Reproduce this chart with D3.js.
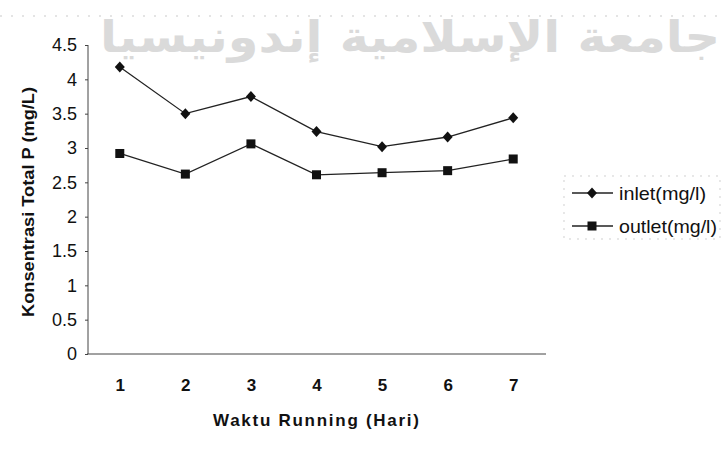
<!DOCTYPE html>
<html><head><meta charset="utf-8">
<script src="https://cdn.jsdelivr.net/npm/d3@7"></script>
<style>html,body{margin:0;padding:0;background:#fff;}svg{display:block;}</style>
</head><body>
<script>
const categories = ["1","2","3","4","5","6","7"];
const inletValues = [4.18, 3.50, 3.75, 3.24, 3.02, 3.16, 3.44];
const outletValues = [2.92, 2.62, 3.06, 2.61, 2.64, 2.67, 2.84];
const yTicks = [0,0.5,1,1.5,2,2.5,3,3.5,4,4.5];
const seriesNames = ["inlet(mg/l)","outlet(mg/l)"];

const W=721,H=455;
const svg=d3.select("body").append("svg").attr("width",W).attr("height",H);
const font="'Liberation Sans', Arial, sans-serif";

// faint watermark
svg.append("text").attr("x",410).attr("y",52).attr("text-anchor","middle")
  .attr("font-family","'DejaVu Sans', sans-serif").attr("font-weight","bold")
  .attr("font-size",44).attr("fill","#dadada")
  .attr("textLength",620).attr("lengthAdjust","spacingAndGlyphs")
  .text("جامعة الإسلامية إندونيسيا");
svg.append("line").attr("x1",0).attr("x2",721).attr("y1",16).attr("y2",16)
  .attr("stroke","#bbb").attr("stroke-width",0.8).attr("stroke-dasharray","2,9");

const x=d3.scalePoint().domain(categories).range([87,546]).padding(0.5);
const y=d3.scaleLinear().domain([0,4.5]).range([354,45]);

// y axis
const yAxis=d3.axisLeft(y).tickValues(yTicks).tickSize(3).tickPadding(8)
  .tickFormat(d=>String(d));
const gy=svg.append("g").attr("transform","translate(88,0)").call(yAxis);
gy.select(".domain").attr("stroke","#444").attr("stroke-width",1).attr("d","M0,45V354");
gy.selectAll(".tick line").attr("stroke","#444");
gy.selectAll(".tick text").attr("font-family",font).attr("font-size",18).attr("fill","#111");

// x axis
const xAxis=d3.axisBottom(x).tickSize(0).tickPadding(25);
const gx=svg.append("g").attr("transform","translate(0,354)").call(xAxis);
gx.select(".domain").attr("stroke","#444").attr("stroke-width",1).attr("d","M87,0H546");
gx.selectAll(".tick text").attr("font-family",font).attr("font-size",17).attr("font-weight","bold").attr("fill","#111");

// axis titles
svg.append("text").attr("transform","translate(34,202) rotate(-90)").attr("text-anchor","middle")
  .attr("font-family",font).attr("font-weight","bold").attr("font-size",16).attr("fill","#111")
  .attr("textLength",230).attr("lengthAdjust","spacingAndGlyphs")
  .text("Konsentrasi Total P (mg/L)");
svg.append("text").attr("x",316).attr("y",426).attr("text-anchor","middle")
  .attr("font-family",font).attr("font-weight","bold").attr("font-size",17).attr("fill","#111")
  .attr("textLength",206).attr("lengthAdjust","spacing")
  .text("Waktu Running (Hari)");

const line=d3.line().x((d,i)=>x(categories[i])).y(d=>y(d));
function drawSeries(vals, shape){
  svg.append("path").datum(vals).attr("d",line).attr("fill","none")
    .attr("stroke","#222").attr("stroke-width",1.3);
  const g=svg.append("g");
  vals.forEach((v,i)=>{
    const cx=x(categories[i]), cy=y(v);
    if(shape==="diamond"){
      g.append("path").attr("transform",`translate(${cx},${cy})`)
        .attr("d","M0,-5.5L5,0L0,5.5L-5,0Z").attr("fill","#111");
    } else {
      g.append("rect").attr("x",cx-4.5).attr("y",cy-4.5).attr("width",9).attr("height",9).attr("fill","#111");
    }
  });
}
drawSeries(inletValues,"diamond");
drawSeries(outletValues,"square");

// legend
const lg=svg.append("g");
lg.append("rect").attr("x",564).attr("y",176).attr("width",156).attr("height",63)
  .attr("fill","none").attr("stroke","#bbb").attr("stroke-width",0.7).attr("stroke-dasharray","2,6");
const lens=[87,98];
seriesNames.forEach((n,i)=>{
  const yy=193+i*33;
  lg.append("line").attr("x1",572).attr("x2",613).attr("y1",yy).attr("y2",yy)
    .attr("stroke","#222").attr("stroke-width",1.3);
  if(i===0) lg.append("path").attr("transform",`translate(592,${yy})`).attr("d","M0,-5.5L5,0L0,5.5L-5,0Z").attr("fill","#111");
  else lg.append("rect").attr("x",587.5).attr("y",yy-4.5).attr("width",9).attr("height",9).attr("fill","#111");
  lg.append("text").attr("x",619).attr("y",yy+7).attr("font-family",font).attr("font-size",19)
    .attr("fill","#111").attr("textLength",lens[i]).attr("lengthAdjust","spacingAndGlyphs").text(n);
});
</script>
</body></html>
